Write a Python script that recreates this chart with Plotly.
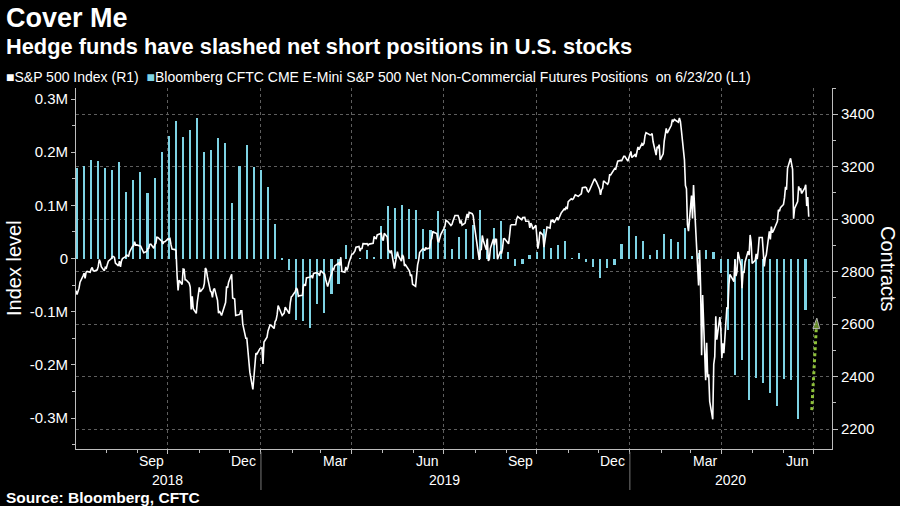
import pandas as pd
import plotly.graph_objects as go

# ---------------- data ----------------
# S&P 500 Index daily close (right axis, R1)
sp500 = [
("2018-07-02",2727),("2018-07-03",2713),("2018-07-05",2737),("2018-07-06",2760),("2018-07-09",2784),("2018-07-10",2794),
("2018-07-11",2774),("2018-07-12",2798),("2018-07-13",2801),("2018-07-16",2798),("2018-07-17",2810),("2018-07-18",2816),
("2018-07-19",2804),("2018-07-20",2802),("2018-07-23",2807),("2018-07-24",2820),("2018-07-25",2846),("2018-07-26",2837),
("2018-07-27",2819),("2018-07-30",2803),("2018-07-31",2816),("2018-08-01",2813),("2018-08-02",2827),("2018-08-03",2840),
("2018-08-06",2850),("2018-08-07",2858),("2018-08-08",2858),("2018-08-09",2854),("2018-08-10",2833),("2018-08-13",2822),
("2018-08-14",2840),("2018-08-15",2818),("2018-08-16",2841),("2018-08-17",2850),("2018-08-20",2857),("2018-08-21",2863),
("2018-08-22",2862),("2018-08-23",2857),("2018-08-24",2875),("2018-08-27",2897),("2018-08-28",2898),("2018-08-29",2914),
("2018-08-30",2901),("2018-08-31",2902),("2018-09-04",2897),("2018-09-05",2889),("2018-09-06",2878),("2018-09-07",2872),
("2018-09-10",2877),("2018-09-11",2888),("2018-09-12",2889),("2018-09-13",2904),("2018-09-14",2905),("2018-09-17",2889),
("2018-09-18",2904),("2018-09-19",2908),("2018-09-20",2931),("2018-09-21",2930),("2018-09-24",2919),("2018-09-25",2916),
("2018-09-26",2906),("2018-09-27",2914),("2018-09-28",2914),("2018-10-01",2925),("2018-10-02",2923),("2018-10-03",2926),
("2018-10-04",2902),("2018-10-05",2886),("2018-10-08",2884),("2018-10-09",2880),("2018-10-10",2786),("2018-10-11",2728),
("2018-10-12",2767),("2018-10-15",2751),("2018-10-16",2810),("2018-10-17",2809),("2018-10-18",2769),("2018-10-19",2768),
("2018-10-22",2756),("2018-10-23",2741),("2018-10-24",2656),("2018-10-25",2706),("2018-10-26",2659),("2018-10-29",2641),
("2018-10-30",2683),("2018-10-31",2712),("2018-11-01",2740),("2018-11-02",2723),("2018-11-05",2738),("2018-11-06",2755),
("2018-11-07",2814),("2018-11-08",2807),("2018-11-09",2781),("2018-11-12",2726),("2018-11-13",2722),("2018-11-14",2702),
("2018-11-15",2730),("2018-11-16",2736),("2018-11-19",2691),("2018-11-20",2642),("2018-11-21",2650),("2018-11-23",2633),
("2018-11-26",2673),("2018-11-27",2682),("2018-11-28",2744),("2018-11-29",2738),("2018-11-30",2760),("2018-12-03",2790),
("2018-12-04",2700),("2018-12-06",2696),("2018-12-07",2633),("2018-12-10",2638),("2018-12-11",2637),("2018-12-12",2651),
("2018-12-13",2651),("2018-12-14",2600),("2018-12-17",2546),("2018-12-18",2546),("2018-12-19",2507),("2018-12-20",2467),
("2018-12-21",2417),("2018-12-24",2351),("2018-12-26",2468),("2018-12-27",2489),("2018-12-28",2486),("2018-12-31",2507),
("2019-01-02",2510),("2019-01-03",2448),("2019-01-04",2532),("2019-01-07",2550),("2019-01-08",2574),("2019-01-09",2585),
("2019-01-10",2597),("2019-01-11",2596),("2019-01-14",2583),("2019-01-15",2610),("2019-01-16",2616),("2019-01-17",2636),
("2019-01-18",2671),("2019-01-22",2633),("2019-01-23",2639),("2019-01-24",2642),("2019-01-25",2665),("2019-01-28",2644),
("2019-01-29",2640),("2019-01-30",2681),("2019-01-31",2704),("2019-02-01",2707),("2019-02-04",2725),("2019-02-05",2738),
("2019-02-06",2732),("2019-02-07",2706),("2019-02-08",2708),("2019-02-11",2710),("2019-02-12",2745),("2019-02-13",2753),
("2019-02-14",2746),("2019-02-15",2776),("2019-02-19",2780),("2019-02-20",2785),("2019-02-21",2775),("2019-02-22",2793),
("2019-02-25",2796),("2019-02-26",2794),("2019-02-27",2792),("2019-02-28",2784),("2019-03-01",2804),("2019-03-04",2793),
("2019-03-05",2790),("2019-03-06",2771),("2019-03-07",2749),("2019-03-08",2743),("2019-03-11",2783),("2019-03-12",2792),
("2019-03-13",2811),("2019-03-14",2808),("2019-03-15",2822),("2019-03-18",2833),("2019-03-19",2833),("2019-03-20",2824),
("2019-03-21",2855),("2019-03-22",2801),("2019-03-25",2798),("2019-03-26",2818),("2019-03-27",2805),("2019-03-28",2815),
("2019-03-29",2834),("2019-04-01",2867),("2019-04-02",2867),("2019-04-03",2873),("2019-04-04",2879),("2019-04-05",2893),
("2019-04-08",2896),("2019-04-09",2878),("2019-04-10",2888),("2019-04-11",2888),("2019-04-12",2907),("2019-04-15",2906),
("2019-04-16",2907),("2019-04-17",2900),("2019-04-18",2905),("2019-04-22",2908),("2019-04-23",2934),("2019-04-24",2927),
("2019-04-25",2926),("2019-04-26",2940),("2019-04-29",2943),("2019-04-30",2946),("2019-05-01",2924),("2019-05-02",2918),
("2019-05-03",2946),("2019-05-06",2932),("2019-05-07",2884),("2019-05-08",2879),("2019-05-09",2871),("2019-05-10",2881),
("2019-05-13",2812),("2019-05-14",2834),("2019-05-15",2851),("2019-05-16",2876),("2019-05-17",2860),("2019-05-20",2840),
("2019-05-21",2864),("2019-05-22",2856),("2019-05-23",2822),("2019-05-24",2826),("2019-05-28",2802),("2019-05-29",2783),
("2019-05-30",2789),("2019-05-31",2752),("2019-06-03",2744),("2019-06-04",2803),("2019-06-05",2826),("2019-06-06",2843),
("2019-06-07",2873),("2019-06-10",2887),("2019-06-11",2886),("2019-06-12",2880),("2019-06-13",2892),("2019-06-14",2887),
("2019-06-17",2890),("2019-06-18",2918),("2019-06-19",2926),("2019-06-20",2954),("2019-06-21",2950),("2019-06-24",2945),
("2019-06-25",2917),("2019-06-26",2914),("2019-06-27",2925),("2019-06-28",2942),("2019-07-01",2964),("2019-07-02",2973),
("2019-07-03",2996),("2019-07-05",2990),("2019-07-08",2976),("2019-07-09",2980),("2019-07-10",2993),("2019-07-11",3004),
("2019-07-12",3014),("2019-07-15",3014),("2019-07-16",3004),("2019-07-17",2984),("2019-07-18",2995),("2019-07-19",2977),
("2019-07-22",2985),("2019-07-23",3005),("2019-07-24",3020),("2019-07-25",3004),("2019-07-26",3026),("2019-07-29",3021),
("2019-07-30",3013),("2019-07-31",2980),("2019-08-01",2954),("2019-08-02",2932),("2019-08-05",2845),("2019-08-06",2882),
("2019-08-07",2884),("2019-08-08",2938),("2019-08-09",2919),("2019-08-12",2883),("2019-08-13",2926),("2019-08-14",2841),
("2019-08-15",2848),("2019-08-16",2889),("2019-08-19",2924),("2019-08-20",2901),("2019-08-21",2924),("2019-08-22",2923),
("2019-08-23",2847),("2019-08-26",2878),("2019-08-27",2869),("2019-08-28",2888),("2019-08-29",2925),("2019-08-30",2926),
("2019-09-03",2906),("2019-09-04",2938),("2019-09-05",2976),("2019-09-06",2979),("2019-09-09",2978),("2019-09-10",2979),
("2019-09-11",3001),("2019-09-12",3010),("2019-09-13",3007),("2019-09-16",2998),("2019-09-17",3006),("2019-09-18",3007),
("2019-09-19",3007),("2019-09-20",2992),("2019-09-23",2992),("2019-09-24",2967),("2019-09-25",2985),("2019-09-26",2978),
("2019-09-27",2962),("2019-09-30",2977),("2019-10-01",2940),("2019-10-02",2888),("2019-10-03",2911),("2019-10-04",2952),
("2019-10-07",2939),("2019-10-08",2893),("2019-10-09",2919),("2019-10-10",2938),("2019-10-11",2970),("2019-10-14",2966),
("2019-10-15",2996),("2019-10-16",2990),("2019-10-17",2998),("2019-10-18",2986),("2019-10-21",3007),("2019-10-22",2996),
("2019-10-23",3005),("2019-10-24",3010),("2019-10-25",3023),("2019-10-28",3039),("2019-10-29",3037),("2019-10-30",3047),
("2019-10-31",3038),("2019-11-01",3067),("2019-11-04",3078),("2019-11-05",3075),("2019-11-06",3077),("2019-11-07",3085),
("2019-11-08",3093),("2019-11-11",3087),("2019-11-12",3092),("2019-11-13",3094),("2019-11-14",3097),("2019-11-15",3120),
("2019-11-18",3122),("2019-11-19",3120),("2019-11-20",3108),("2019-11-21",3104),("2019-11-22",3110),("2019-11-25",3134),
("2019-11-26",3141),("2019-11-27",3154),("2019-11-29",3141),("2019-12-02",3114),("2019-12-03",3093),("2019-12-04",3113),
("2019-12-05",3117),("2019-12-06",3146),("2019-12-09",3136),("2019-12-10",3133),("2019-12-11",3142),("2019-12-12",3169),
("2019-12-13",3169),("2019-12-16",3191),("2019-12-17",3193),("2019-12-18",3191),("2019-12-19",3205),("2019-12-20",3221),
("2019-12-23",3224),("2019-12-24",3223),("2019-12-26",3240),("2019-12-27",3240),("2019-12-30",3221),("2019-12-31",3231),
("2020-01-02",3258),("2020-01-03",3235),("2020-01-06",3246),("2020-01-07",3237),("2020-01-08",3253),("2020-01-09",3275),
("2020-01-10",3265),("2020-01-13",3288),("2020-01-14",3283),("2020-01-15",3289),("2020-01-16",3317),("2020-01-17",3330),
("2020-01-21",3321),("2020-01-22",3322),("2020-01-23",3326),("2020-01-24",3295),("2020-01-27",3244),("2020-01-28",3276),
("2020-01-29",3273),("2020-01-30",3284),("2020-01-31",3226),("2020-02-03",3249),("2020-02-04",3298),("2020-02-05",3335),
("2020-02-06",3346),("2020-02-07",3328),("2020-02-10",3352),("2020-02-11",3358),("2020-02-12",3379),("2020-02-13",3374),
("2020-02-14",3380),("2020-02-18",3370),("2020-02-19",3386),("2020-02-20",3373),("2020-02-21",3338),("2020-02-24",3226),
("2020-02-25",3128),("2020-02-26",3116),("2020-02-27",2979),("2020-02-28",2954),("2020-03-02",3090),("2020-03-03",3003),
("2020-03-04",3130),("2020-03-05",3024),("2020-03-06",2972),("2020-03-09",2747),("2020-03-10",2882),("2020-03-11",2741),
("2020-03-12",2481),("2020-03-13",2711),("2020-03-16",2386),("2020-03-17",2529),("2020-03-18",2398),("2020-03-19",2409),
("2020-03-20",2305),("2020-03-23",2237),("2020-03-24",2447),("2020-03-25",2476),("2020-03-26",2630),("2020-03-27",2541),
("2020-03-30",2627),("2020-03-31",2585),("2020-04-01",2471),("2020-04-02",2527),("2020-04-03",2489),("2020-04-06",2664),
("2020-04-07",2659),("2020-04-08",2750),("2020-04-09",2790),("2020-04-13",2762),("2020-04-14",2846),("2020-04-15",2783),
("2020-04-16",2800),("2020-04-17",2875),("2020-04-20",2823),("2020-04-21",2737),("2020-04-22",2799),("2020-04-23",2798),
("2020-04-24",2837),("2020-04-27",2878),("2020-04-28",2863),("2020-04-29",2940),("2020-04-30",2912),("2020-05-01",2831),
("2020-05-04",2843),("2020-05-05",2868),("2020-05-06",2848),("2020-05-07",2881),("2020-05-08",2930),("2020-05-11",2930),
("2020-05-12",2870),("2020-05-13",2820),("2020-05-14",2853),("2020-05-15",2864),("2020-05-18",2954),("2020-05-19",2923),
("2020-05-20",2972),("2020-05-21",2949),("2020-05-22",2955),("2020-05-26",2992),("2020-05-27",3036),("2020-05-28",3030),
("2020-05-29",3044),("2020-06-01",3056),("2020-06-02",3081),("2020-06-03",3123),("2020-06-04",3112),("2020-06-05",3194),
("2020-06-08",3232),("2020-06-09",3207),("2020-06-10",3190),("2020-06-11",3002),("2020-06-12",3041),("2020-06-15",3067),
("2020-06-16",3125),("2020-06-17",3113),("2020-06-18",3115),("2020-06-19",3098),("2020-06-22",3118),("2020-06-23",3131),
("2020-06-24",3050),("2020-06-25",3084),("2020-06-26",3009),
]

# CFTC net non-commercial positions, weekly (Tuesdays), thousands of contracts (left axis, L1)
cftc_first_week = "2018-07-03"
cftc_net_k = [
 171, 174, 185, 184, 171, 167, 182, 125, 147, 163, 123, 152, 201, 230, 258, 229, 241, 265, 201, 204,
 227, 218, 105, 175, 213, 172, 167, 135, 65, -1, -22, -115, -117, -130, -85, -103, -66, -48, 25, 0,
 1, 17, 2, 62, 98, 95, 101, 94, 91, 55, 53, 89, 56, 18, 40, 56, 63, 91, 35, 57,
 70, 13, -14, -10, 6, 12, 56, 20, 25, 34, 1, 11, -7, -16, -37, -18, -12, 28, 62, 42,
 34, 6, 17, 47, 36, 31, 57, 5, 10, 16, 13, -28, -135, -218, -191, -265, -224, -234, -252, -277,
 -227, -228, -302, -97,
]

# axis ticks and labels
left_tickvals = [-300000, -200000, -100000, 0, 100000, 200000, 300000]
left_ticktext = ["-0.3M", "-0.2M", "-0.1M", "0", "0.1M", "0.2M", "0.3M"]
left_minor = [-350000, -250000, -150000, -50000, 50000, 150000, 250000]
right_tickvals = [2200, 2400, 2600, 2800, 3000, 3200, 3400]
quarter_lines = ["2018-10-01", "2019-01-01", "2019-04-01", "2019-07-01",
                 "2019-10-01", "2020-01-01", "2020-04-01", "2020-07-01"]
month_label_dates = ["2018-09-15", "2018-12-15", "2019-03-15", "2019-06-15",
                     "2019-09-15", "2019-12-15", "2020-03-15", "2020-06-15"]
month_labels = ["Sep", "Dec", "Mar", "Jun", "Sep", "Dec", "Mar", "Jun"]
year_label_dates = ["2018-10-01", "2019-07-02", "2020-04-10"]
year_labels = ["2018", "2019", "2020"]
year_breaks = ["2019-01-01", "2020-01-01"]

# green "cover" arrow (right-axis coordinates)
arrow_x = ["2020-06-29", "2020-07-04"]
arrow_y = [2272, 2623]

# ---------------- styling ----------------
FONT = "Liberation Sans, Arial, sans-serif"
CYAN = "#7ed3e4"
GRID = "#5e5e5e"
AXIS = "#bdbdbd"

L, R, T, B = 76, 68, 88, 57
W, H = 900, 506
PW, PH = W - L - R, H - T - B


def px(x):
    return (x - L) / PW


def py(y):
    return (H - B - y) / PH


sp_dates = [d for d, _ in sp500]
sp_vals = [v for _, v in sp500]
cftc_dates = pd.date_range(cftc_first_week, periods=len(cftc_net_k), freq="7D")
cftc_vals = [v * 1000 for v in cftc_net_k]

fig = go.Figure()
fig.add_trace(go.Bar(x=cftc_dates, y=cftc_vals, marker=dict(color=CYAN, line=dict(width=0)),
                     width=1.6 * 86400000, yaxis="y", name="CFTC"))
fig.add_trace(go.Scatter(x=sp_dates, y=sp_vals, mode="lines", line=dict(color="white", width=1.6),
                         yaxis="y2", name="S&P 500"))
fig.add_trace(go.Scatter(x=arrow_x, y=arrow_y, mode="lines+markers", yaxis="y2",
                         line=dict(color="#8fc23a", width=3, dash="dot"),
                         marker=dict(symbol="arrow", angleref="previous", size=[0, 11], color="#8fc23a"),
                         name="arrow"))

fig.update_layout(
    width=W, height=H, margin=dict(l=L, r=R, t=T, b=B),
    paper_bgcolor="black", plot_bgcolor="black", showlegend=False, bargap=0,
    font=dict(family=FONT, color="white"),
    xaxis=dict(type="date", range=["2018-07-02", "2020-07-19"], tickmode="array", tickvals=quarter_lines,
               showticklabels=False, showgrid=True, gridcolor=GRID, griddash="dot", gridwidth=1,
               ticks="outside", ticklen=4, tickcolor=AXIS, showline=True, linecolor=AXIS, linewidth=1,
               zeroline=False,
               minor=dict(dtick="M1", tick0="2018-07-01", ticks="outside", ticklen=3, tickcolor=AXIS, showgrid=False)),
    yaxis=dict(range=[-358000, 320700], tickmode="array", tickvals=left_tickvals, ticktext=left_ticktext,
               showgrid=False, zeroline=False, showline=True, linecolor=AXIS, linewidth=1,
               ticks="outside", ticklen=4, tickcolor=AXIS, tickfont=dict(size=15, color="white"),
               minor=dict(tickvals=left_minor, ticks="outside", ticklen=3, tickcolor=AXIS)),
    yaxis2=dict(range=[2124, 3500], overlaying="y", side="right", tickmode="array", tickvals=right_tickvals,
                showgrid=True, gridcolor=GRID, griddash="dot", gridwidth=1, zeroline=False,
                showline=True, linecolor=AXIS, linewidth=1, ticks="outside", ticklen=5, tickcolor=AXIS,
                tickfont=dict(size=15, color="white"),
                minor=dict(dtick=100, ticks="outside", ticklen=3, tickcolor=AXIS)),
)

ann = []
ann.append(dict(text="<b>Cover Me</b>", x=px(4), y=py(18), xref="paper", yref="paper",
                xanchor="left", yanchor="middle", showarrow=False, font=dict(size=27, color="white")))
ann.append(dict(text="<b>Hedge funds have slashed net short positions in U.S. stocks</b>", x=px(4), y=py(46),
                xref="paper", yref="paper", xanchor="left", yanchor="middle", showarrow=False,
                font=dict(size=21.8, color="white")))
legend_txt = ("<span style='color:white'>■</span>S&P 500 Index (R1)  "
              f"<span style='color:{CYAN}'>■</span>Bloomberg CFTC CME E-Mini S&P 500 Net Non-Commercial "
              "Futures Positions  on 6/23/20 (L1)")
ann.append(dict(text=legend_txt, x=px(4), y=py(77), xref="paper", yref="paper", xanchor="left",
                yanchor="middle", showarrow=False, font=dict(size=14, color="white")))
ann.append(dict(text="<b>Source: Bloomberg, CFTC</b>", x=px(4), y=py(497), xref="paper", yref="paper",
                xanchor="left", yanchor="middle", showarrow=False, font=dict(size=15.5, color="white")))
ann.append(dict(text="Index level", x=px(14), y=py(268), xref="paper", yref="paper", textangle=-90,
                xanchor="center", yanchor="middle", showarrow=False, font=dict(size=20, color="white")))
ann.append(dict(text="Contracts", x=px(888), y=py(269), xref="paper", yref="paper", textangle=90,
                xanchor="center", yanchor="middle", showarrow=False, font=dict(size=20, color="white")))
for d, t in zip(month_label_dates, month_labels):
    ann.append(dict(text=t, x=d, y=py(461), xref="x", yref="paper", xanchor="center", yanchor="middle",
                    showarrow=False, font=dict(size=14, color="white")))
for d, t in zip(year_label_dates, year_labels):
    ann.append(dict(text=t, x=d, y=py(480), xref="x", yref="paper", xanchor="center", yanchor="middle",
                    showarrow=False, font=dict(size=14, color="white")))
fig.update_layout(annotations=ann)

shapes = []
for d in year_breaks:
    shapes.append(dict(type="line", x0=d, x1=d, y0=py(452), y1=py(490), xref="x", yref="paper",
                       line=dict(color="#777777", width=1)))
fig.update_layout(shapes=shapes)

fig.write_html("out.html", config={"displayModeBar": False},
               post_script="document.body.style.margin='0';document.body.style.overflow='hidden';"
                           "document.body.style.background='black';")
